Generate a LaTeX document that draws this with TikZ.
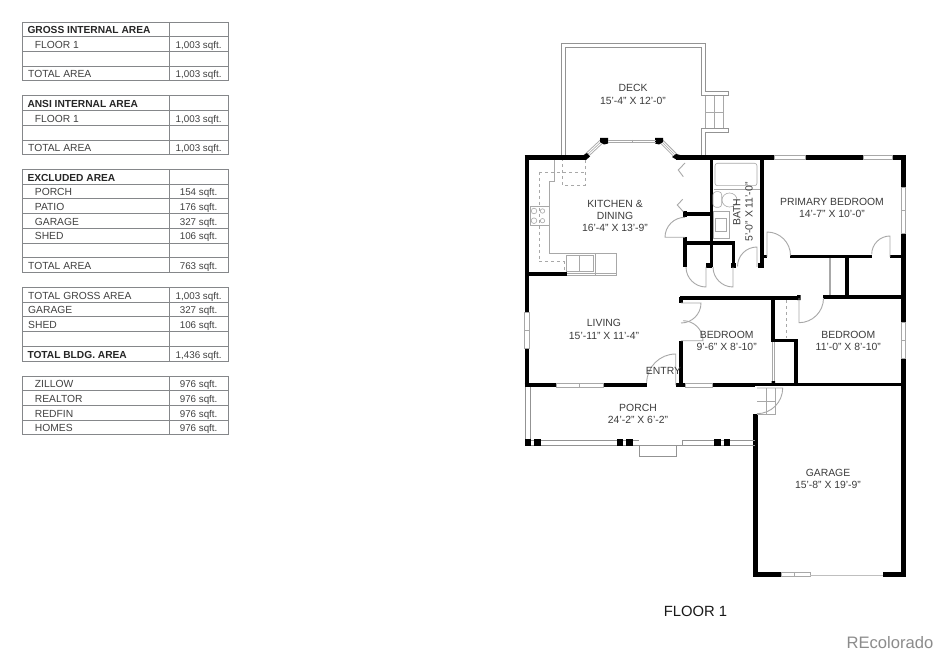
\documentclass[tikz,border=0pt]{standalone}
\usepackage{fontspec}
\setmainfont{Liberation Sans}
\definecolor{tblgray}{HTML}{85878A}
\definecolor{inkgray}{HTML}{3C3C3C}
\definecolor{fixgray}{HTML}{A8A8A8}
\tikzset{
  wall/.style={line width=4.6pt, black},
  thinwall/.style={line width=3.6pt, black},
  fixture/.style={line width=0.6pt, fixgray},
  dashfix/.style={line width=0.7pt, fixgray, dashed},
  leaf/.style={line width=0.9pt, fixgray},
  pane/.style={draw=fixgray, line width=0.6pt, fill=white},
  glass/.style={draw=fixgray, double=white, double distance=2.8pt, line width=0.9pt},
  rail/.style={line width=1pt, gray!85},
  post/.style={fill=black, draw=none, minimum size=6.5pt, inner sep=0pt},
  roomtxt/.style={font=\fontsize{10.4}{12.3}\selectfont, align=center, text=inkgray, inner sep=0pt},
  celltxt/.style={font=\fontsize{10.3}{12}\selectfont, text=black!75, anchor=base west, inner sep=0pt},
  sizetxt/.style={font=\fontsize{9.8}{12}\selectfont, text=black!75, anchor=base, inner sep=0pt},
  headtxt/.style={font=\bfseries\fontsize{10.2}{12}\selectfont, text=black!85, anchor=base west, inner sep=0pt},
}
% one table: \areatable{top y}{number of rows}
\newcommand{\areatable}[2]{
  \draw[tblgray, line width=0.9pt] (22,#1) rectangle (228,#1+14.72*#2);
  \draw[tblgray, line width=0.9pt] (169.4,#1) -- (169.4,#1+14.72*#2);
  \foreach \r in {1,...,#2} {\draw[tblgray, line width=0.9pt] (22,#1+14.72*\r) -- (228,#1+14.72*\r);}
}
% one row: \arearow{baseline y}{indent x}{style}{text}{size}
\newcommand{\arearow}[5]{
  \node[#3] at (#2,#1+0.7) {#4};
  \node[sizetxt] at (198.6,#1+0.7) {#5};
}
\begin{document}
\begin{tikzpicture}[x=1pt, y=-1pt]
\useasboundingbox (0,0) rectangle (940,655);
\fill[white] (0,0) rectangle (940,655);

% tables
\areatable{22}{4}
\areatable{95.8}{4}
\areatable{169.4}{7}
\areatable{287.4}{5}
\areatable{376}{4}

\arearow{33}{27.3}{headtxt}{GROSS INTERNAL AREA}{}
\arearow{47.7}{34.7}{celltxt}{FLOOR 1}{1,003 sqft.}
\arearow{77.2}{28}{celltxt}{TOTAL AREA}{1,003 sqft.}
\arearow{106.8}{27.3}{headtxt}{ANSI INTERNAL AREA}{}
\arearow{121.5}{34.7}{celltxt}{FLOOR 1}{1,003 sqft.}
\arearow{151}{28}{celltxt}{TOTAL AREA}{1,003 sqft.}
\arearow{180.4}{27.3}{headtxt}{EXCLUDED AREA}{}
\arearow{195.1}{34.7}{celltxt}{PORCH}{154 sqft.}
\arearow{209.8}{34.7}{celltxt}{PATIO}{176 sqft.}
\arearow{224.6}{34.7}{celltxt}{GARAGE}{327 sqft.}
\arearow{239.3}{34.7}{celltxt}{SHED}{106 sqft.}
\arearow{268.7}{28}{celltxt}{TOTAL AREA}{763 sqft.}
\arearow{298.4}{28}{celltxt}{TOTAL GROSS AREA}{1,003 sqft.}
\arearow{313.1}{28}{celltxt}{GARAGE}{327 sqft.}
\arearow{327.9}{28}{celltxt}{SHED}{106 sqft.}
\arearow{357.3}{27.3}{headtxt}{TOTAL BLDG. AREA}{1,436 sqft.}
\arearow{387}{34.7}{celltxt}{ZILLOW}{976 sqft.}
\arearow{401.7}{34.7}{celltxt}{REALTOR}{976 sqft.}
\arearow{416.4}{34.7}{celltxt}{REDFIN}{976 sqft.}
\arearow{431.2}{34.7}{celltxt}{HOMES}{976 sqft.}

% deck
\draw[rail] (561.7,157) -- (561.7,43.5) -- (705.7,43.5) -- (705.7,91.5) -- (728,91.5) -- (728,96) -- (701.7,96);
\draw[rail] (565.7,157) -- (565.7,48) -- (701.7,48) -- (701.7,96);
\draw[rail] (701.7,128.5) -- (728,128.5) -- (728,133) -- (705.7,133) -- (705.7,157);
\draw[rail] (701.7,128.5) -- (701.7,157);
\draw[fixture] (705.7,96) -- (705.7,128.5) (714,96) -- (714,128.5) (723,96) -- (723,128.5) (705.7,112) -- (723,112);

% outer walls
\draw[wall] (524.5,157.5) -- (586,157.5);
\draw[wall] (676,157.5) -- (774,157.5) (805,157.5) -- (863,157.5) (892,157.5) -- (905.5,157.5);
\draw[wall] (526.8,155.2) -- (526.8,312) (526.8,348) -- (526.8,387);
\draw[wall] (903.4,155.2) -- (903.4,187) (903.4,233) -- (903.4,322) (903.4,358) -- (903.4,576);
\draw[wall] (524.5,385) -- (556,385) (603,385) -- (647,385) (676,385) -- (685,385) (712,385) -- (755,385);
\draw[thinwall] (755,384.3) -- (903,384.3);
\draw[wall] (755.6,414) -- (755.6,576.5);
\draw[wall] (753.3,574.3) -- (781,574.3) (883,574.3) -- (905.7,574.3);

% bay with its windows and slider
\draw[glass] (586,156) -- (602,141);
\draw[glass] (676,156) -- (661,141);
\draw[fixture] (586,156) -- (602,141) (676,156) -- (661,141);
\fill[black] (600,138) -- (608,138) -- (608,143.5) -- (604,144.5) -- (600,142) -- cycle;
\fill[black] (655,138) -- (663,138) -- (663,142) -- (659,144.5) -- (655,143.5) -- cycle;
\fill[black] (587,153) -- (590,156.5) -- (586,160) -- (582,156) -- cycle;
\fill[black] (676,154) -- (680,155) -- (680,160) -- (677,160) -- (672,157) -- cycle;
\draw[fixture] (608,140) -- (656,140) (608,142.3) -- (656,142.3) (632,140) -- (632,142.3);

% windows
\draw[pane] (774,155.8) rectangle (805,159.8);
\draw[pane] (863,155.8) rectangle (892,159.8);
\draw[pane] (901.2,187) rectangle (905.6,233);
\draw[fixture] (901.2,210) -- (905.6,210);
\draw[pane] (901.2,322) rectangle (905.6,358);
\draw[fixture] (901.2,340) -- (905.6,340);
\draw[pane] (524.6,312) rectangle (529,348);
\draw[fixture] (524.6,330) -- (529,330);
\draw[pane] (556,383) rectangle (603,387.2);
\draw[fixture] (579.5,383) -- (579.5,387.2);
\draw[pane] (685,383) rectangle (712,387.2);
\draw[pane] (781,572.3) rectangle (810,576.3);
\draw[fixture] (794,572.3) -- (794,576.3);
\draw[line width=1.2pt, black!25] (810,575.2) -- (883,575.2);

% inner walls
\draw[thinwall] (711.5,158) -- (711.5,267) (761.7,158) -- (761.7,267);
\draw[thinwall] (683,214.3) -- (711,214.3) (683.5,243.3) -- (735.2,243.3);
\draw[thinwall] (685,237) -- (685,267) (733.3,242) -- (733.3,267);
\draw[wall] (685,211.5) -- (685,217.5) (731,265.5) -- (736,265.5) (706,265.5) -- (712,265.5);
\draw[wall] (758,265.5) -- (764,265.5);
\draw[thinwall] (761,256.7) -- (767,256.7) (790,256.7) -- (871.7,256.7) (890,256.7) -- (903,256.7);
\draw[thinwall] (847,257) -- (847,297) (823,296.7) -- (903,296.7);
\draw[thinwall] (680,297.7) -- (799,297.7);
\draw[thinwall] (681,297) -- (681,302.5) (681,340.7) -- (681,385);
\draw[thinwall] (773,297.7) -- (773,340.3) -- (795.7,340.3) -- (795.7,385);
\draw[thinwall] (526,274) -- (567.3,274);
\fill[black] (771.5,381) rectangle (775,385) (797,295) rectangle (800.5,300);

% doors
\draw[leaf] (767,257) -- (767,232) arc[start angle=270, end angle=360, radius=23.5];
\draw[leaf] (890,257) -- (890,236) arc[start angle=270, end angle=180, radius=18.3];
\draw[leaf] (799,298) -- (799,322.7) arc[start angle=90, end angle=0, radius=24.5];
\draw[leaf] (681,303) -- (701,303) arc[start angle=0, end angle=90, radius=20];
\draw[leaf] (681,340.7) -- (703,340.7) arc[start angle=0, end angle=-90, radius=20];
\draw[leaf] (675.7,385) -- (675.7,354) arc[start angle=270, end angle=180, radius=29];
\draw[leaf] (757,388) -- (782.7,388) arc[start angle=0, end angle=90, radius=25.7];
\draw[leaf] (685,237.3) -- (665,237.3) arc[start angle=180, end angle=270, radius=20];
\draw[leaf] (706,267) -- (706,287) arc[start angle=90, end angle=180, radius=20];
\draw[leaf] (733,267) -- (733,287) arc[start angle=90, end angle=180, radius=20];
\draw[leaf] (757,267) -- (757,247) arc[start angle=270, end angle=180, radius=19.5];
\draw[leaf] (685,163) -- (678.3,170) -- (683.3,176.7);
\draw[leaf] (682.7,199.3) -- (677.3,205) -- (683.3,211.7);

% closet and stair lines
\draw[fixture] (829,258) -- (829,295) (830.6,258) -- (830.6,295);
\draw[fixture] (772.4,342) -- (772.4,381) (774,342) -- (774,381);
\draw[dashfix] (786,300) -- (786,338);
\draw[fixture] (775.5,388) -- (775.5,414.5) -- (757,414.5) (766,388) -- (766,414.5) (757,401.7) -- (775.5,401.7);

% kitchen
\draw[dashfix] (539,172) -- (585,172) (585,160) -- (585,185) -- (562,185) -- (562,160);
\draw[dashfix] (539,172) -- (539,261.7) -- (564,261.7) -- (564,272.7);
\draw[fixture] (554,160) -- (554,181.7) -- (549.7,181.7) -- (549.7,253.3) -- (616.7,253.3) -- (616.7,275.3) -- (567,275.3);
\draw[fixture] (595.7,253.3) -- (595.7,275.3) (567,273.2) -- (616.7,273.2);
\draw[fixture] (566.7,255.3) rectangle (593,271.5) (579.7,255.3) -- (579.7,271.5);
\draw[fixture] (530,206.7) rectangle (549.7,225);
\draw[fixture] (534,211) circle (2.8) (534,220.7) circle (2.8) (542.5,211) circle (2.2) (542.5,220.7) circle (2.2);

% bath
\draw[fixture, rounded corners=2.5pt] (715,163.3) rectangle (757,185.7);
\draw[fixture] (713.5,189.3) -- (760,189.3);
\draw[fixture, rounded corners=3pt] (713,191.7) rectangle (721.7,207.3);
\draw[fixture] (729.5,200) ellipse (7.5 and 7);
\draw[fixture] (713,211.7) rectangle (729.3,238.5);
\draw[fixture] (715,218) rectangle (726.7,231.7);

% porch
\draw[rail] (525,387) -- (525,441) (530,387) -- (530,441);
\draw[rail] (525,440) -- (639,440) (682.3,440) -- (755,440);
\draw[rail] (525,445) -- (755,445) (682.3,440) -- (682.3,445);
\draw[rail] (639,445) -- (639,456) -- (676.7,456) -- (676.7,445);
\foreach \n/\x in {pa/528, pb/537.7, pc/620, pd/629.3, pe/717.3, pf/727}
  \node[post] (\n) at (\x,442.3) {};

% room labels
\node[roomtxt] (deck) at (633,94.5) {DECK\\15'-4" X 12'-0"};
\node[roomtxt] (kitchen) at (615,216) {KITCHEN \&\\DINING\\16'-4" X 13'-9"};
\node[roomtxt, rotate=90] (bath) at (743,212) {BATH\\5'-0" X 11'-0"};
\node[roomtxt] (primary) at (832,208) {PRIMARY BEDROOM\\14'-7" X 10'-0"};
\node[roomtxt] (living) at (604,329.5) {LIVING\\15'-11" X 11'-4"};
\node[roomtxt] (bed2) at (726.7,341) {BEDROOM\\9'-6" X 8'-10"};
\node[roomtxt] (bed3) at (848.3,341) {BEDROOM\\11'-0" X 8'-10"};
\node[roomtxt] (entry) at (663.5,370.7) {ENTRY};
\node[roomtxt] (porch) at (638,414) {PORCH\\24'-2" X 6'-2"};
\node[roomtxt] (garage) at (828,479) {GARAGE\\15'-8" X 19'-9"};
\node[font=\fontsize{14.8}{16}\selectfont, text=black!90, inner sep=0pt] (floor) at (695.5,611.5) {FLOOR 1};
\node[font=\fontsize{16.6}{18}\selectfont, text=black!45, inner sep=0pt] (mark) at (890,643) {REcolorado};
\end{tikzpicture}
\end{document}
